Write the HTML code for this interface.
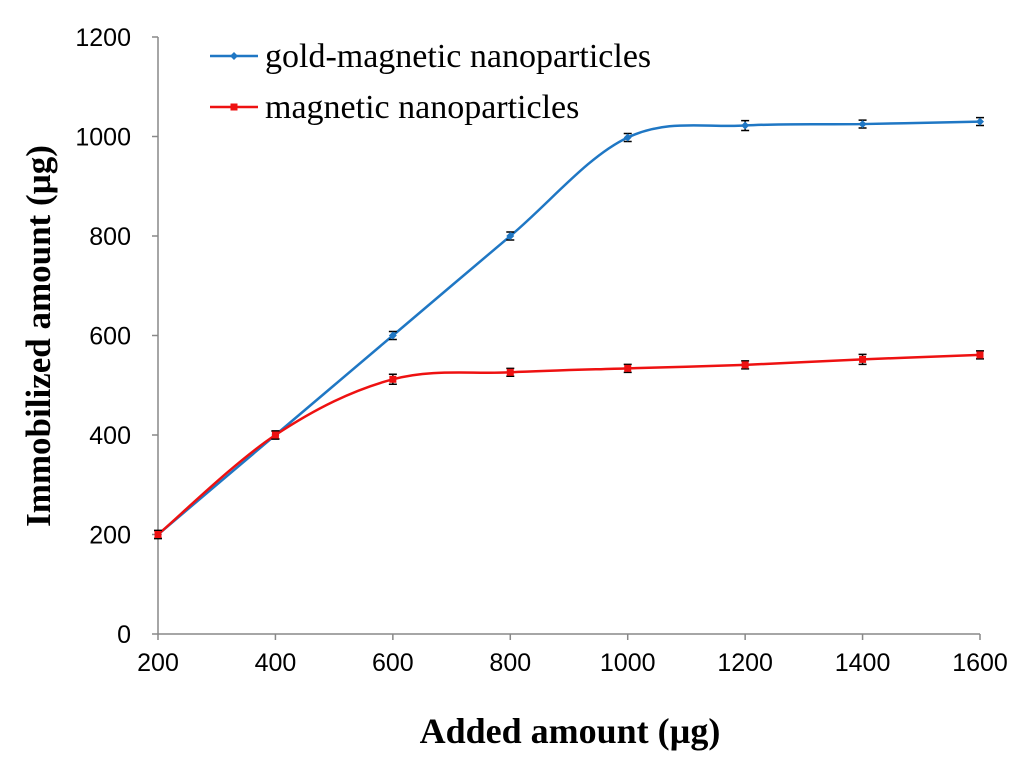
<!DOCTYPE html>
<html><head><meta charset="utf-8"><style>
body{margin:0;background:#fff;}
svg{display:block;}
</style></head><body>
<svg id="chart" width="1024" height="764" xmlns="http://www.w3.org/2000/svg"></svg>
<script>
const categories=[200,400,600,800,1000,1200,1400,1600];
const goldValues=[200,400,600,800,998,1022,1025,1030];
const goldErrors=[8,8,8,8,8,10,8,8];
const magValues=[200,400,512,526,534,541,552,561];
const magErrors=[8,8,10,8,8,8,10,8];
const yTicks=[0,200,400,600,800,1000,1200];
const xTicks=[200,400,600,800,1000,1200,1400,1600];

const NS="http://www.w3.org/2000/svg";
const svg=document.getElementById('chart');
const X0=158,X1=980,Y0=634,Y1=37;
function xs(v){return X0+(v-200)/1400*(X1-X0);}
function ys(v){return Y0-v/1200*(Y0-Y1);}
function mk(tag,attrs,parent){const e=document.createElementNS(NS,tag);for(const k in attrs)e.setAttribute(k,attrs[k]);(parent||svg).appendChild(e);return e;}

const axes=mk('g',{});


mk('line',{x1:X0,y1:Y1,x2:X0,y2:Y0,stroke:'#888','stroke-width':1.5},axes);
mk('line',{x1:X0,y1:Y0,x2:X1,y2:Y0,stroke:'#888','stroke-width':1.5},axes);
yTicks.forEach(t=>{
  const y=ys(t);
  mk('line',{x1:X0-6,y1:y,x2:X0,y2:y,stroke:'#888','stroke-width':1.5},axes);
  const tx=mk('text',{x:X0-27,y:y+9,'text-anchor':'end','font-family':'Liberation Sans, sans-serif','font-size':25,fill:'#000'},axes);
  tx.textContent=t;
  
  
});
xTicks.forEach(t=>{
  const x=xs(t);
  mk('line',{x1:x,y1:Y0,x2:x,y2:Y0+6,stroke:'#888','stroke-width':1.5},axes);
  const tx=mk('text',{x:x,y:Y0+37,'text-anchor':'middle','font-family':'Liberation Sans, sans-serif','font-size':25,fill:'#000'},axes);
  tx.textContent=t;
  
  
});
const xt=mk('text',{x:570,y:743,'text-anchor':'middle','font-family':'Liberation Serif, serif','font-size':36,'font-weight':'bold',fill:'#000'});
xt.textContent='Added  amount (µg)';


const yt=mk('text',{x:0,y:0,transform:'translate(50,336) rotate(-90)','text-anchor':'middle','font-family':'Liberation Serif, serif','font-size':35,'font-weight':'bold',fill:'#000'});
yt.textContent='Immobilized  amount (µg)';



function smoothPath(pts){
  let d=`M${pts[0][0]},${pts[0][1]}`;
  for(let i=0;i<pts.length-1;i++){
    const p0=pts[i-1]||pts[i],p1=pts[i],p2=pts[i+1],p3=pts[i+2]||p2;
    const t=0.34;
    const c1=[p1[0]+(p2[0]-p0[0])*t/2,p1[1]+(p2[1]-p0[1])*t/2];
    const c2=[p2[0]-(p3[0]-p1[0])*t/2,p2[1]-(p3[1]-p1[1])*t/2];
    d+=` C${c1[0]},${c1[1]} ${c2[0]},${c2[1]} ${p2[0]},${p2[1]}`;
  }
  return d;
}
function series(vals,errs,color,name,marker){
  const g=mk('g',{});
  
  
  const pts=categories.map((c,i)=>[xs(c),ys(vals[i])]);
  mk('path',{d:smoothPath(pts),fill:'none',stroke:color,'stroke-width':2.5},g);
  pts.forEach((p,i)=>{
    const e=errs[i]/1200*(Y0-Y1);
    mk('path',{d:`M${p[0]},${p[1]-e}V${p[1]+e}M${p[0]-4},${p[1]-e}H${p[0]+4}M${p[0]-4},${p[1]+e}H${p[0]+4}`,stroke:'#000','stroke-width':1.5,fill:'none'},g);
    let m;
    if(marker==='diamond') m=mk('path',{d:`M${p[0]},${p[1]-4}L${p[0]+4},${p[1]}L${p[0]},${p[1]+4}L${p[0]-4},${p[1]}Z`,fill:color},g);
    else m=mk('rect',{x:p[0]-3.5,y:p[1]-3.5,width:7,height:7,fill:color},g);
    
    
  });
}
series(goldValues,goldErrors,'#1f77c4','gold-magnetic-series','diamond');
series(magValues,magErrors,'#ee1111','magnetic-series','square');

function legend(y,color,label,marker,name){
  const g=mk('g',{});
  
  
  mk('line',{x1:210,y1:y,x2:258,y2:y,stroke:color,'stroke-width':2.5},g);
  if(marker==='diamond') mk('path',{d:`M234,${y-4}L238,${y}L234,${y+4}L230,${y}Z`,fill:color},g);
  else mk('rect',{x:230.5,y:y-3.5,width:7,height:7,fill:color},g);
  const t=mk('text',{x:265,y:y+11,'font-family':'Liberation Serif, serif','font-size':34,fill:'#000'},g);
  t.textContent=label;
}
legend(56,'#1f77c4','gold-magnetic nanoparticles','diamond','legend-entry-gold');
legend(107,'#ee1111','magnetic nanoparticles','square','legend-entry-magnetic');
</script>
</body></html>
